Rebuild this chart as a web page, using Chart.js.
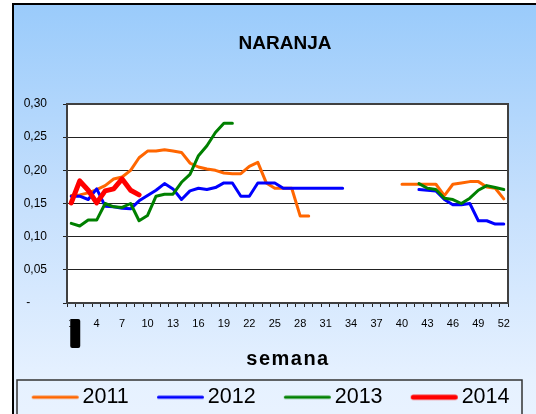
<!DOCTYPE html>
<html>
<head>
<meta charset="utf-8">
<script src="https://cdn.jsdelivr.net/npm/chart.js@4.4.1/dist/chart.umd.min.js"></script>
<style>
  html, body { margin: 0; padding: 0; width: 536px; height: 414px; overflow: hidden; background: #fff; }
  #frame {
    position: absolute; left: 12px; top: 3px; width: 600px; height: 500px;
    border: 2px solid #000;
    background: linear-gradient(#9acbfb 0%, #c6e0fd 40%, #e6f1ff 75%, #eef5ff 100%);
  }
  #chart { position: absolute; left: 0; top: 0; }
</style>
</head>
<body>
<div id="frame"></div>
<canvas id="chart" width="536" height="418"></canvas>
<script>
/* ===== Data ===== */
const weeks = ['1','2','3','4','5','6','7','8','9','10','11','12','13','14','15','16','17','18','19','20',
  '21','22','23','24','25','26','27','28','29','30','31','32','33','34','35','36','37','38','39','40',
  '41','42','43','44','45','46','47','48','49','50','51','52'];

const years = ['2011', '2012', '2013', '2014'];

const values2011 = [0.162, 0.163, 0.166, 0.171, 0.177, 0.187, 0.190, 0.200, 0.219, 0.229,
  0.229, 0.231, 0.229, 0.227, 0.211, 0.205, 0.202, 0.200, 0.196, 0.195,
  0.195, 0.206, 0.212, 0.181, 0.173, 0.173, 0.173, 0.131, 0.131, null,
  null, null, null, null, null, null, null, null, null, 0.179,
  0.179, 0.179, 0.179, 0.179, 0.162, 0.179, 0.181, 0.183, 0.183, 0.175,
  0.173, 0.157];

const values2012 = [0.161, 0.161, 0.156, 0.172, 0.146, 0.145, 0.143, 0.142, 0.154, 0.162,
  0.170, 0.180, 0.172, 0.156, 0.169, 0.173, 0.171, 0.174, 0.181, 0.181,
  0.161, 0.161, 0.181, 0.181, 0.181, 0.173, 0.173, 0.173, 0.173, 0.173,
  0.173, 0.173, 0.173, null, null, null, null, null, null, null,
  null, 0.171, 0.170, 0.169, 0.156, 0.148, 0.148, 0.150, 0.124, 0.124,
  0.119, 0.119];

const values2013 = [0.120, 0.116, 0.125, 0.125, 0.150, 0.145, 0.144, 0.150, 0.124, 0.132,
  0.161, 0.164, 0.164, 0.182, 0.194, 0.222, 0.237, 0.257, 0.271, 0.271,
  null, null, null, null, null, null, null, null, null, null,
  null, null, null, null, null, null, null, null, null, null,
  null, 0.180, 0.173, 0.171, 0.158, 0.156, 0.150, 0.158, 0.170, 0.177,
  0.174, 0.171];

const values2014 = [0.151, 0.184, 0.170, 0.151, 0.169, 0.172, 0.187, 0.170, 0.163];

const yearColors = ['#ff6600', '#0000ff', '#008000', '#ff0000'];
const yearWidths = [3, 3, 3, 5];
const drawOrder = [3, 2, 1, 0]; // red on top

const FONT = '"Liberation Sans", Arial, sans-serif';

/* ===== Legend swatches (line just before the text) ===== */
const SWATCH_BOX = 68.3;
function lineSwatch(color, width) {
  const c = document.createElement('canvas');
  c.width = 84;
  c.height = 10;
  const g = c.getContext('2d');
  g.strokeStyle = color;
  g.lineWidth = width;
  g.lineCap = 'round';
  g.beginPath();
  g.moveTo(36 + width / 2, 5);
  g.lineTo(83 - width / 2, 5);
  g.stroke();
  return c;
}
const swatches = yearColors.map((c, i) => lineSwatch(c, yearWidths[i]));

/* ===== Extra drawing ===== */
const decorPlugin = {
  id: 'decor',
  afterLayout(chart) {
    chart.legend.left = 0;
    chart.legend.right = 513;
  },
  beforeDraw(chart) {
    const { ctx, chartArea: a } = chart;
    ctx.save();
    ctx.fillStyle = '#fff';
    ctx.fillRect(a.left, a.top, a.right - a.left, a.bottom - a.top);
    ctx.restore();
  },
  beforeDatasetsDraw(chart) {
    const { ctx, chartArea: a } = chart;
    ctx.save();
    ctx.strokeStyle = '#404040';
    ctx.lineWidth = 2;
    ctx.strokeRect(a.left, a.top, a.right - a.left, a.bottom - a.top);
    ctx.restore();
  },
  afterDraw(chart) {
    const { ctx, chartArea: a } = chart;
    const x = chart.scales.x;
    ctx.save();

    // title
    ctx.fillStyle = '#000';
    ctx.font = 'bold 19px ' + FONT;
    ctx.textAlign = 'center';
    ctx.textBaseline = 'alphabetic';
    ctx.fillText('NARANJA', 285, 49);

    // axis title
    ctx.font = 'bold 20px ' + FONT;
    ctx.letterSpacing = '1.5px';
    ctx.fillText('semana', 288, 365);
    ctx.letterSpacing = '0px';

    // black mark over the first week label
    const px = x.getPixelForValue(0);
    ctx.beginPath();
    ctx.roundRect(px - 1, a.bottom + 16, 10, 29, 2);
    ctx.fill();

    // legend frame
    ctx.strokeStyle = '#333';
    ctx.lineWidth = 1.5;
    ctx.strokeRect(17, 380, 505, 60);
    ctx.restore();
  }
};

/* ===== Chart ===== */
const series = [values2011, values2012, values2013, values2014];

new Chart(document.getElementById('chart'), {
  type: 'line',
  data: {
    labels: weeks,
    datasets: series.map((data, i) => ({
      label: years[i],
      data,
      borderColor: yearColors[i],
      backgroundColor: yearColors[i],
      borderWidth: yearWidths[i],
      pointRadius: 0,
      tension: 0,
      spanGaps: false,
      borderJoinStyle: 'round',
      borderCapStyle: 'round',
      order: drawOrder[i]
    }))
  },
  options: {
    responsive: false,
    animation: false,
    layout: { padding: { top: 104, left: 0, right: 0, bottom: 0 } },
    scales: {
      x: {
        offset: true,
        border: { display: false },
        grid: { offset: true, drawOnChartArea: false, drawTicks: true, tickLength: 4, color: '#222' },
        ticks: {
          autoSkip: false,
          maxRotation: 0,
          padding: 10,
          color: '#000',
          font: { size: 11, family: FONT },
          callback: (v, i) => (i % 3 === 0 ? weeks[i] : '')
        },
        afterFit: (scale) => { scale.height = 83.5; }
      },
      y: {
        min: 0,
        max: 0.30,
        border: { display: false },
        grid: { color: '#222', lineWidth: 1, tickLength: 4, drawTicks: true },
        ticks: {
          stepSize: 0.05,
          padding: 16,
          color: '#000',
          font: { size: 12, family: FONT },
          callback: (v) => (Math.abs(v) < 1e-9 ? '-     ' : v.toFixed(2).replace('.', ','))
        },
        afterFit: (scale) => { scale.width = 67; }
      },
      // empty right-hand axis, only keeps the plot's right margin
      margin: {
        type: 'linear',
        position: 'right',
        grid: { display: false },
        border: { display: false },
        ticks: { display: false },
        afterFit: (scale) => { scale.width = 28; }
      }
    },
    plugins: {
      title: { display: false },
      tooltip: { enabled: false },
      legend: {
        position: 'bottom',
        labels: {
          usePointStyle: true,
          pointStyleWidth: SWATCH_BOX,
          padding: 0,
          color: '#000',
          font: { size: 21.5, family: FONT },
          sort: (a, b) => a.datasetIndex - b.datasetIndex,
          generateLabels: (chart) => Chart.defaults.plugins.legend.labels.generateLabels(chart)
            .map(item => Object.assign(item, { pointStyle: swatches[item.datasetIndex] }))
        }
      }
    }
  },
  plugins: [decorPlugin]
});
</script>
</body>
</html>
